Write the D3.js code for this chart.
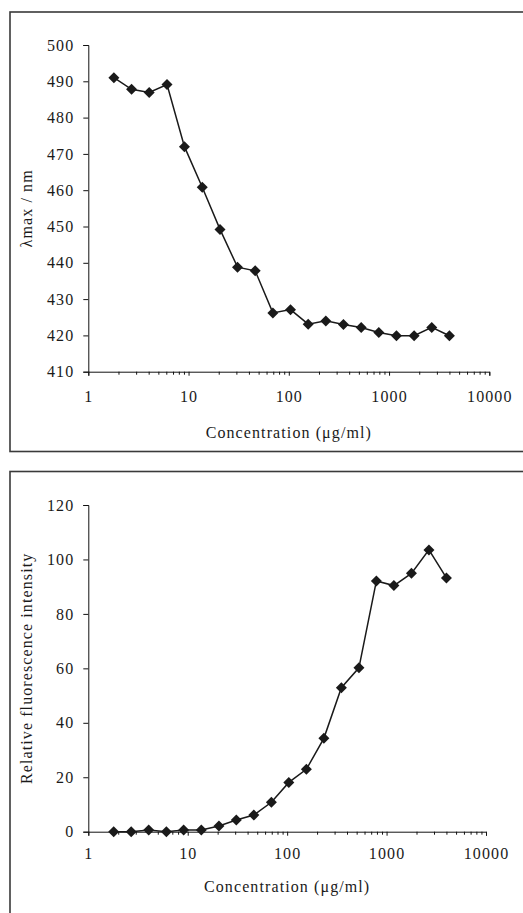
<!DOCTYPE html>
<html><head><meta charset="utf-8">
<script src="https://cdn.jsdelivr.net/npm/d3@7"></script>
<style>
html,body{margin:0;padding:0;background:#fff;}
svg{display:block;}
text{font-family:"Liberation Serif","Times New Roman",serif;fill:#1a1a1a;letter-spacing:1.1px;}
</style></head>
<body>
<svg id="chart" width="523" height="913"></svg>
<script>
// Concentrations (μg/ml)
const concentrations = [1.8, 2.7, 4.05, 6.1, 9.1, 13.7, 20.6, 30.8, 46.2, 69.4, 104, 156, 234, 351, 527, 790, 1185, 1778, 2667, 4000];
// Top panel: λmax (nm)
const lambdaMax = [491, 487.8, 486.9, 489.1, 472, 460.8, 449.2, 438.8, 437.8, 426.2, 427.1, 423.1, 424.0, 423.0, 422.2, 420.8, 419.9, 419.9, 422.2, 419.9];
// Bottom panel: relative fluorescence intensity
const fluorescence = [0, 0, 0.6, 0, 0.6, 0.6, 2.1, 4.3, 6.1, 10.8, 18.1, 22.9, 34.3, 52.9, 60.2, 92.1, 90.4, 94.9, 103.5, 93.2];
// Tick labels
const xTicks = [1, 10, 100, 1000, 10000];
const yTicksTop = [410, 420, 430, 440, 450, 460, 470, 480, 490, 500];
const yTicksBottom = [0, 20, 40, 60, 80, 100, 120];
const xTitle = "Concentration (\u03bcg/ml)";
const yTitleTop = "\u03bbmax / nm";
const yTitleBottom = "Relative fluorescence intensity";

const svg = d3.select("#chart");

function panel(cfg) {
  svg.append("rect").attr("x", cfg.frame[0]).attr("y", cfg.frame[1])
    .attr("width", cfg.frame[2]).attr("height", cfg.frame[3])
    .attr("fill", "none").attr("stroke", "#3a3a3a").attr("stroke-width", 1.6);

  const x = d3.scaleLog().domain([1, 10000]).range([cfg.left, cfg.right]);
  const y = d3.scaleLinear().domain(cfg.yDomain).range([cfg.bottom, cfg.top]);
  const g = svg.append("g");

  const ya = g.append("g").attr("transform", `translate(${cfg.left},0)`)
    .call(d3.axisLeft(y).tickValues(cfg.yTicks).tickSize(5).tickPadding(9).tickFormat(d3.format("d")));
  ya.selectAll("text").attr("font-size", 16);
  const xa = g.append("g").attr("transform", `translate(0,${cfg.bottom})`)
    .call(d3.axisBottom(x).tickValues(xTicks).tickSize(4).tickPadding(cfg.xPad).tickFormat(d3.format("d")));
  xa.selectAll("text").attr("font-size", 16);
  const minors = x.ticks().filter(v => !xTicks.includes(v));
  g.append("g").attr("transform", `translate(0,${cfg.bottom})`)
    .call(d3.axisBottom(x).tickValues(minors).tickSize(3).tickFormat(""))
    .select(".domain").remove();
  g.selectAll(".domain, .tick line").attr("stroke", "#111").attr("stroke-width", 1);

  svg.append("text").attr("x", (cfg.left + cfg.right) / 2).attr("y", cfg.xTitleY)
    .attr("text-anchor", "middle").attr("font-size", 16).text(xTitle);
  svg.append("text").attr("transform", `translate(${cfg.yTitleX},${(cfg.top + cfg.bottom) / 2}) rotate(-90)`)
    .attr("text-anchor", "middle").attr("dominant-baseline", "central")
    .attr("font-size", 16).text(cfg.yTitle);

  const line = d3.line().x((d, i) => x(concentrations[i])).y(d => y(d));
  g.append("path").datum(cfg.values).attr("d", line)
    .attr("fill", "none").attr("stroke", "#1a1a1a").attr("stroke-width", 1.5);
  const r = 5.5;
  g.selectAll("path.mk").data(cfg.values).join("path").attr("class", "mk")
    .attr("d", (d, i) => {
      const cx = x(concentrations[i]), cy = y(d);
      return `M${cx},${cy - r}L${cx + r},${cy}L${cx},${cy + r}L${cx - r},${cy}Z`;
    })
    .attr("fill", "#1a1a1a");
}

panel({
  frame: [10, 12, 530, 439.5],
  left: 88.3, right: 489.3, top: 45, bottom: 371.7,
  yDomain: [410, 500], yTicks: yTicksTop, values: lambdaMax,
  xPad: 15, xTitleY: 437.5, yTitleX: 26, yTitle: yTitleTop
});
panel({
  frame: [10, 471.5, 530, 460],
  left: 88.3, right: 486, top: 505, bottom: 831.7,
  yDomain: [0, 120], yTicks: yTicksBottom, values: fluorescence,
  xPad: 12, xTitleY: 892, yTitleX: 26, yTitle: yTitleBottom
});
</script>
</body></html>
